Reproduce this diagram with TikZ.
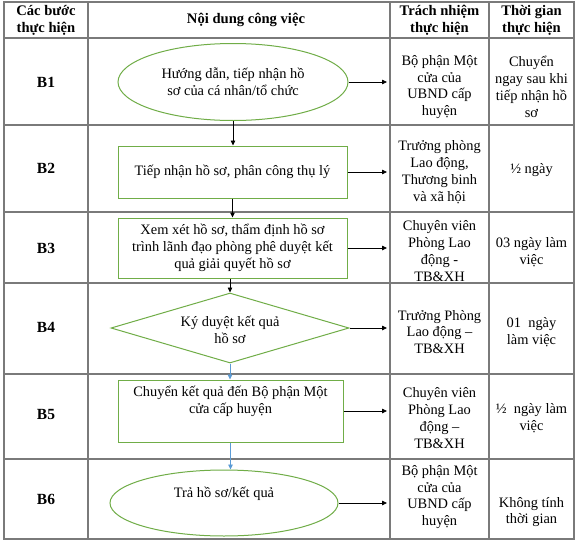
\documentclass[tikz,border=0pt]{standalone}
\usepackage{fontspec}
\setmainfont{Liberation Serif}
\usetikzlibrary{shapes.geometric,arrows.meta}
\definecolor{wgreen}{HTML}{70AD47}
\definecolor{wblue}{HTML}{5B9BD5}
\definecolor{tgray}{HTML}{7A7A7A}
\begin{document}
\begin{tikzpicture}[x=1pt,y=-1pt,
  font=\fontsize{14.4}{16.8}\selectfont,
  tline/.style={draw=tgray, line width=1.1pt},
  gshape/.style={draw=wgreen, line width=1pt, inner sep=0pt, align=center},
  txt/.style={align=center, inner sep=0pt},
  head/.style={align=center, inner sep=0pt, font=\fontsize{14.6}{17}\selectfont\bfseries},
  steplbl/.style={inner sep=0pt, font=\fontsize{15.5}{17}\selectfont\bfseries},
  arr/.style={draw=black, line width=0.8pt, -{Triangle[length=5pt,width=4.5pt]}},
  barr/.style={draw=wblue, line width=0.8pt, -{Triangle[length=5pt,width=4.5pt]}}
]
\useasboundingbox (0,0) rectangle (576,541);
\fill[white] (0,0) rectangle (576,541);

% table grid
\draw[tline] (4,2) rectangle (574,539);
\foreach \yy in {38,125,212,283,374,459} \draw[tline] (4,\yy) -- (574,\yy);
\foreach \xx in {88,390,489} \draw[tline] (\xx,2) -- (\xx,539);

% header
\node[head] (h1) at (46,20) {Các bước\\thực hiện};
\node[head] (h2) at (246,20) {Nội dung công việc};
\node[head] (h3) at (439.5,20) {Trách nhiệm\\thực hiện};
\node[head] (h4) at (531.5,20) {Thời gian\\thực hiện};

% step labels
\node[steplbl] (b1) at (46,82) {B1};
\node[steplbl] (b2) at (46,168) {B2};
\node[steplbl] (b3) at (46,248) {B3};
\node[steplbl] (b4) at (46,327) {B4};
\node[steplbl] (b5) at (46,414) {B5};
\node[steplbl] (b6) at (46,499) {B6};

% flow shapes
\node[gshape, ellipse, minimum width=230pt, minimum height=77pt] (e1) at (233,82)
  {Hướng dẫn, tiếp nhận hồ\\sơ của cá nhân/tổ chức};
\node[gshape, rectangle, minimum width=229pt, minimum height=52pt] (r2) at (232.5,172)
  {Tiếp nhận hồ sơ, phân công thụ lý};
\node[gshape, rectangle, minimum width=229pt, minimum height=60pt] (r3) at (232.5,248)
  {Xem xét hồ sơ, thẩm định hồ sơ\\trình lãnh đạo phòng phê duyệt kết\\quả giải quyết hồ sơ};
\node[gshape, diamond, aspect=3.4, minimum width=238pt, minimum height=70pt] (d4) at (230,328) {};
\node[txt] (t4) at (230,330) {Ký duyệt kết quả\\hồ sơ};
\node[gshape, rectangle, minimum width=225pt, minimum height=62pt] (r5) at (230.5,411) {};
\node[txt] (t5) at (230.5,401) {Chuyển kết quả đến Bộ phận Một\\cửa cấp huyện};
\node[gshape, ellipse, minimum width=228pt, minimum height=66pt] (e6) at (224,503) {};
\node[txt] (t6) at (224,494) {Trả hồ sơ/kết quả};

% responsibility column
\node[txt] (p1) at (439.5,87) {Bộ phận Một\\cửa của\\UBND cấp\\huyện};
\node[txt] (p2) at (439.5,172) {Trưởng phòng\\Lao động,\\Thương binh\\và xã hội};
\node[txt] (p3) at (439.5,251) {Chuyên viên\\Phòng Lao\\động -\\TB\&XH};
\node[txt] (p4) at (439.5,332) {Trưởng Phòng\\Lao động –\\TB\&XH};
\node[txt] (p5) at (439.5,418) {Chuyên viên\\Phòng Lao\\động –\\TB\&XH};
\node[txt] (p6) at (439.5,497) {Bộ phận Một\\cửa của\\UBND cấp\\huyện};

% time column
\node[txt] (q1) at (531.5,87) {Chuyển\\ngay sau khi\\tiếp nhận hồ\\sơ};
\node[txt] (q2) at (531.5,170) {½ ngày};
\node[txt] (q3) at (531.5,252) {03 ngày làm\\việc};
\node[txt] (q4) at (531.5,332) {01~~ngày\\làm việc};
\node[txt] (q5) at (531.5,418) {½~~ngày làm\\việc};
\node[txt] (q6) at (531.5,512) {Không tính\\thời gian};

% arrow target column
\coordinate (c3) at (387,0);

% vertical connectors
\draw[arr] (e1.south) -- (e1.south |- r2.north);
\draw[arr] (r2.south) -- (r2.south |- r3.north);
\draw[arr] (r3.south -| d4.north) -- (d4.north);
\draw[barr] (d4.south) -- (d4.south |- r5.north);
\draw[barr] (r5.south) -- (r5.south |- e6.north);

% horizontal connectors
\draw[arr] (e1.east) -- (e1.east -| c3);
\draw[arr] (r2.east) -- (r2.east -| c3);
\draw[arr] (r3.east) -- (r3.east -| c3);
\draw[arr] (d4.east) -- (d4.east -| c3);
\draw[arr] (r5.east) -- (r5.east -| c3);
\draw[arr] (e6.east) -- (e6.east -| c3);
\end{tikzpicture}
\end{document}
